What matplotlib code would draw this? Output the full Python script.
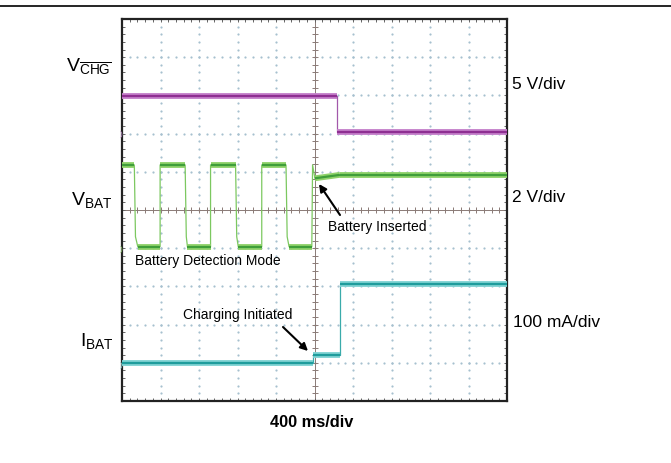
import matplotlib
matplotlib.use("Agg")
import matplotlib.pyplot as plt
import numpy as np
from matplotlib.lines import Line2D

plt.rcParams['font.family'] = ['Liberation Sans', 'DejaVu Sans']
plt.rcParams['mathtext.fontset'] = 'custom'
plt.rcParams['mathtext.rm'] = 'Liberation Sans'

# Traces, in screen divisions (10 x 10 grid), time in divisions of 400 ms
vchg_t = [0.0, 5.58, 5.58, 10.0]
vchg_v = [7.98, 7.98, 7.03, 7.03]

vbat_t = [0.0, 0.32, 0.35, 0.41, 0.99, 0.99,
          1.64, 1.67, 1.70, 2.30, 2.30,
          2.95, 2.98, 3.02, 3.63, 3.63,
          4.26, 4.29, 4.34, 4.93, 4.95, 5.01, 5.66, 10.0]
vbat_v = [6.18, 6.18, 4.3, 4.04, 4.04, 6.18,
          6.18, 4.3, 4.04, 4.04, 6.18,
          6.18, 4.3, 4.04, 4.04, 6.18,
          6.18, 4.3, 4.04, 4.04, 6.18, 5.83, 5.92, 5.92]

ibat_t = [0.0, 4.97, 4.97, 5.65, 5.65, 10.0]
ibat_v = [1.0, 1.0, 1.21, 1.21, 3.06, 3.06]

fig = plt.figure(figsize=(6.71, 4.64), dpi=100)
ax = fig.add_axes([122 / 671, 1 - 402 / 464, 385 / 671, 382 / 464])
ax.set_xlim(0, 10)
ax.set_ylim(0, 10)

# dotted graticule
minor = np.arange(0, 10.01, 0.2)
grid_col = '#a6c0cf'
for k in range(1, 10):
    if k == 5:
        continue
    ax.plot(minor, np.full_like(minor, k), ls='none', marker='o', ms=1.6,
            mew=0, color=grid_col, zorder=1)
    ax.plot(np.full_like(minor, k), minor, ls='none', marker='o', ms=1.6,
            mew=0, color=grid_col, zorder=1)

# centre lines with small ticks
ctr_col = '#8a7a76'
ax.axhline(5, color=ctr_col, lw=0.7, zorder=1)
ax.axvline(5, color=ctr_col, lw=0.7, zorder=1)
ax.plot(minor, np.full_like(minor, 5), ls='none', marker='|', ms=4,
        mew=0.7, color=ctr_col, zorder=1)
ax.plot(np.full_like(minor, 5), minor, ls='none', marker='_', ms=4,
        mew=0.7, color=ctr_col, zorder=1)


def trace(t, v, light, dark, thin):
    # thin edges, noisy (thick) flat parts
    ax.plot(t, v, color=thin, lw=0.9, zorder=3)
    for i in range(len(t) - 1):
        if abs(v[i + 1] - v[i]) < 0.15 and t[i + 1] > t[i]:
            ax.plot(t[i:i + 2], v[i:i + 2], color=light, lw=4.2,
                    solid_capstyle='butt', zorder=3)
            ax.plot(t[i:i + 2], v[i:i + 2], color=dark, lw=1.6,
                    solid_capstyle='butt', zorder=4)


trace(vchg_t, vchg_v, '#c47fca', '#8e2f92', '#a258aa')
trace(vbat_t, vbat_v, '#8fd26a', '#3f9e3a', '#7cc860')
trace(ibat_t, ibat_v, '#7fd3d3', '#1f9c9c', '#3aabab')

# channel ground markers
for yy, c in [(7.0, '#c79ad0'), (4.0, '#9cd27a'), (0.95, '#8ccfd0')]:
    ax.text(-0.05, yy, ')', color=c, fontsize=6, ha='left', va='center',
            zorder=5)

ax.set_xticks(np.arange(0, 11, 1))
ax.set_yticks(np.arange(0, 11, 1))
ax.set_xticks(minor, minor=True)
ax.set_yticks(minor, minor=True)
ax.tick_params(which='both', direction='in', length=2.5, width=0.7,
               color='#666666', top=True, right=True,
               labelbottom=False, labelleft=False)
for s in ax.spines.values():
    s.set_linewidth(1.6)
    s.set_color('#222222')

# top rule
fig.add_artist(Line2D([0, 1], [1 - 7 / 464, 1 - 7 / 464], color='black',
                      lw=1.2))


def fx(px):
    return px / 671


def fy(py):
    return 1 - py / 464


fig.text(fx(66), fy(72), r'$\mathregular{V_{\overline{CHG}}}$', fontsize=14,
         ha='left', va='baseline')
fig.text(fx(71), fy(205), r'$\mathregular{V_{BAT}}$', fontsize=14,
         ha='left', va='baseline')
fig.text(fx(80), fy(346), r'$\mathregular{I_{BAT}}$', fontsize=14,
         ha='left', va='baseline')

fig.text(fx(512), fy(89), '5 V/div', fontsize=12.5, va='baseline')
fig.text(fx(512), fy(202), '2 V/div', fontsize=12.5, va='baseline')
fig.text(fx(513), fy(327), '100 mA/div', fontsize=12.5, va='baseline')

fig.text(fx(312), fy(427), '400 ms/div', fontsize=11.8, fontweight='bold',
         ha='center', va='baseline')

fig.text(fx(328), fy(231), 'Battery Inserted', fontsize=10, va='baseline')
fig.text(fx(135), fy(265), 'Battery Detection Mode', fontsize=10,
         va='baseline')
fig.text(fx(183), fy(319), 'Charging Initiated', fontsize=10, va='baseline')

arrow = dict(arrowstyle='-|>', color='black', lw=1.5, mutation_scale=11,
             shrinkA=0, shrinkB=0)
ax.annotate('', xy=(319, 464 - 185), xytext=(340, 464 - 216),
            xycoords='figure pixels', textcoords='figure pixels',
            arrowprops=arrow)
ax.annotate('', xy=(308, 464 - 352), xytext=(283, 464 - 328),
            xycoords='figure pixels', textcoords='figure pixels',
            arrowprops=arrow)

fig.savefig('out.png', dpi=100)
